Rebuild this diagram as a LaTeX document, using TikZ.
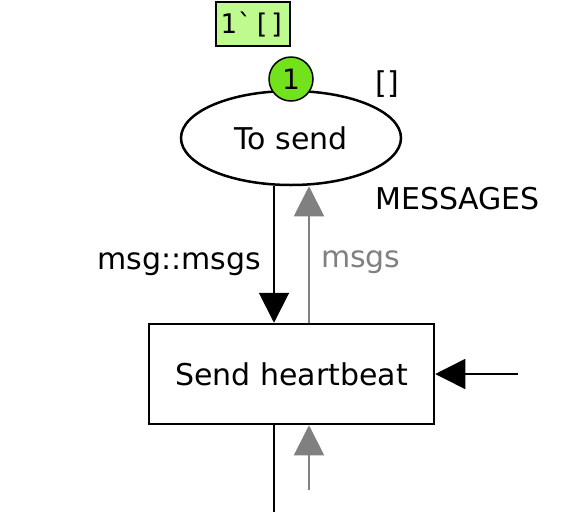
\documentclass[tikz,border=0pt]{standalone}
\usepackage{fontspec}
\setmainfont{DejaVu Sans}
\setmonofont{DejaVu Sans Mono}
\usetikzlibrary{arrows.meta,shapes.geometric}
\definecolor{tokgreen}{RGB}{114,226,28}
\definecolor{lblgreen}{RGB}{190,250,142}
\definecolor{arcgray}{RGB}{128,128,128}

\begin{document}
\begin{tikzpicture}[x=1pt,y=-1pt,>={Triangle[length=30pt,width=30pt]},
 every node/.style={font=\fontsize{30}{34}\selectfont,inner sep=0pt},
 place/.style={ellipse,draw,line width=2.5pt,minimum width=220pt,minimum height=94pt},
 trans/.style={rectangle,draw,line width=2.5pt,minimum width=285pt,minimum height=100pt},
 tok/.style={circle,draw,fill=tokgreen,minimum size=44pt,line width=1.5pt},
 initmark/.style={rectangle,draw,fill=lblgreen,minimum width=74pt,minimum height=44pt,line width=2pt,font=\fontsize{27}{30}\selectfont\ttfamily},
 arc/.style={line width=2pt},
 backarc/.style={line width=2pt,draw=arcgray,fill=arcgray,text=arcgray}]
\useasboundingbox (0,0) rectangle (583,523);
\node[place] (tosend) at (291,138) {To send};
\node[tok,font=\fontsize{28}{30}\selectfont] (tokcount) at (291,79) {1};
\node[initmark] (tokinit) at (253,24) {1\symbol{96}[]};
\node (tosendinit) at (387,84) {[]};
\node[anchor=west] (tosendtype) at (375,199) {MESSAGES};
\node[trans] (sendhb) at (291.5,374) {Send heartbeat};
\coordinate (outbot) at (274,512);\coordinate (inbot) at (309,490);\coordinate (inright) at (518,374);
\draw[arc,->] ([xshift=-17pt]tosend.south) -- ([xshift=-17.5pt]sendhb.north) node[midway,anchor=east,xshift=-12pt,yshift=-10pt] (lblmsg) {msg::msgs};
\draw[backarc,->] ([xshift=17.5pt]sendhb.north) -- ([xshift=18pt]tosend.south) node[midway,anchor=west,xshift=11pt,yshift=-8pt] (lblmsgs) {msgs};
\draw[arc] ([xshift=-17.5pt]sendhb.south) -- (outbot);
\draw[backarc,->] (inbot) -- ([xshift=17.5pt]sendhb.south);
\draw[line width=1.5pt,->] (inright) -- (sendhb.east);
\end{tikzpicture}
\end{document}
